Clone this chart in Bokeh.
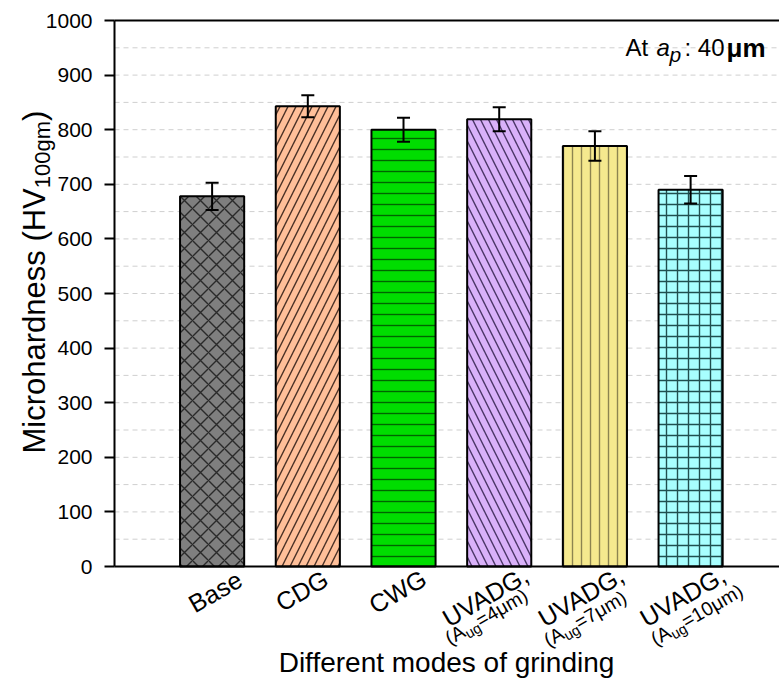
import math
from bokeh.plotting import figure
from bokeh.models import (ColumnDataSource, Range1d, Label, Whisker, TeeHead,
                          LinearAxis, FixedTicker)
from bokeh.embed import file_html
from bokeh.resources import INLINE

# ---------------- data ----------------
categories = ["Base", "CDG", "CWG", "UVADG,", "UVADG,", "UVADG,"]
amplitudes = ["", "", "", "4μm", "7μm", "10μm"]
hardness = [678, 843, 800, 819, 770, 690]
errors = [25, 20, 22, 22, 27, 25]
y_ticks = [0, 100, 200, 300, 400, 500, 600, 700, 800, 900, 1000]
x_title = "Different modes of grinding"
y_title_main = "Microhardness (HV"
y_title_sub = "100gm"
y_title_end = ")"
depth_text = ["At ", "a", "p", ": 40", "μm"]

# ---------------- styles ----------------
fills = ["#7f7f7f", "#ffbf99", "#00dd00", "#d9b1f9", "#f5e98e", "#a8ffff"]
hatches = ["diagonal_cross", "right_diagonal_line", "horizontal_line",
           "left_diagonal_line", "vertical_line", "cross"]
hatch_cols = ["#2a2a2a", "#4a3025", "#006400", "#4a3566", "#8c8450", "#1f4f4f"]
hatch_scales = [16, 16, 11, 16, 9, 11]

FONT = "Liberation Sans"
ADV = {'(': .333, ')': .333, 'A': .667, 'u': .556, 'g': .556, '=': .584,
       'μ': .576, 'm': .833, 'U': .722, 'V': .667, 'D': .722, 'G': .778,
       ',': .278, 'B': .667, 'a': .556, 's': .5, 'e': .556, 'C': .722,
       'W': .944, 'M': .833, 'i': .222, 'c': .5, 'r': .333, 'o': .556,
       'h': .556, 'd': .556, 'n': .556, ' ': .278, 'H': .722, 't': .278,
       'p': .556, ':': .278, 'f': .278}


def tw(s, size):
    return sum(ADV.get(ch, .556) for ch in s) * size


W, H = 779, 679
AX_L, AX_T, AX_B = 114, 20, 566      # pixel places of the axes
X0 = -0.02                            # data x at the left axis
PX = 95.7                             # pixels per category step
PY = (AX_B - AX_T) / 1000.0
XS = X0 - AX_L / PX
XE = XS + W / PX
YE = 1000 + AX_T / PY
YS = -(H - AX_B) / PY

p = figure(width=W, height=H, output_backend="svg", toolbar_location=None,
           x_range=Range1d(XS, XE), y_range=Range1d(YS, YE),
           x_axis_location=None, y_axis_location=None,
           min_border=0, min_border_left=0, min_border_right=0,
           min_border_top=0, min_border_bottom=0)
p.background_fill_color = "white"
p.border_fill_color = "white"
p.outline_line_color = None
p.xgrid.visible = False
p.ygrid.visible = False

# dashed grid at every major and minor tick level
grid_y = [t + h for t in y_ticks[:-1] for h in (0, 50)][1:]
p.segment(x0=[X0] * len(grid_y), x1=[XE] * len(grid_y), y0=grid_y, y1=grid_y,
          line_color="#cfcfcf", line_width=1, line_dash="5 4")

xs = list(range(1, len(categories) + 1))
src = ColumnDataSource(dict(
    x=xs, top=hardness,
    upper=[v + e for v, e in zip(hardness, errors)],
    lower=[v - e for v, e in zip(hardness, errors)],
    fill=fills, hatch=hatches, hcol=hatch_cols, hscale=hatch_scales))

p.vbar(x="x", top="top", width=0.67, source=src, fill_color="fill",
       line_color="black", line_width=2, hatch_pattern="hatch",
       hatch_color="hcol", hatch_scale="hscale", hatch_weight=1.4)

wh = Whisker(source=src, base="x", upper="upper", lower="lower",
             dimension="height", line_width=2, line_color="black",
             upper_head=TeeHead(size=13, line_width=2, line_color="black"),
             lower_head=TeeHead(size=13, line_width=2, line_color="black"),
             level="overlay")
p.add_layout(wh)

# y axis
ya = LinearAxis(fixed_location=X0, bounds=(0, 1000),
                ticker=FixedTicker(ticks=y_ticks))
ya.axis_line_width = 2
ya.axis_line_color = "black"
ya.major_tick_line_width = 2
ya.major_tick_line_color = "black"
ya.major_tick_out = 10
ya.major_tick_in = 0
ya.minor_tick_line_color = None
ya.major_label_text_font = FONT
ya.major_label_text_font_size = "21px"
ya.major_label_text_color = "black"
ya.major_label_standoff = 12
p.add_layout(ya, "left")

# bottom and top frame lines (axes without ticks)
for loc, side in ((0, "below"), (1000, "above")):
    ax = LinearAxis(fixed_location=loc, bounds=(X0, XE),
                    ticker=FixedTicker(ticks=[]), axis_line_width=2,
                    axis_line_color="black", major_tick_line_color=None,
                    minor_tick_line_color=None,
                    major_label_text_font_size="0px")
    p.add_layout(ax, side)


def put(text, sx, sy, size, angle=0.0, align="left", style="normal"):
    """sx, sy: pixel place of the middle line start (or centre)."""
    p.add_layout(Label(x=X0, y=0, x_offset=sx - AX_L, y_offset=AX_B - sy,
                       text=text, angle=angle, text_font=FONT,
                       text_font_size=f"{size}px", text_font_style=style,
                       text_color="black", text_align=align,
                       text_baseline="middle"))


def bar_px(i):
    return AX_L + (xs[i] - X0) * PX

# ---------------- x tick labels ----------------
TH = math.radians(30)
u = (math.cos(TH), -math.sin(TH))
d = (math.sin(TH), math.cos(TH))
F1, F2, FS = 25, 19.5, 14.5
line1_pos = [(3, 591), (-6, 590), (-6, 591), (-14, 596), (-14, 596),
             (-8, 596)]
line2_pos = [None, None, None, (-13, 616), (-10, 618), (6, 614)]

for i, cat in enumerate(categories):
    cx = bar_px(i)
    dx, cy = line1_pos[i]
    put(cat, cx + dx, cy, F1, angle=TH, align="center")
    if amplitudes[i]:
        dx2, cy2 = line2_pos[i]
        rest = "=" + amplitudes[i] + ")"
        L2 = tw("(A", F2) + tw("ug", FS) + tw(rest, F2)
        s2 = (cx + dx2 - L2 / 2 * u[0], cy2 - L2 / 2 * u[1])
        put("(A", s2[0], s2[1], F2, angle=TH)
        a1 = tw("(A", F2)
        low = 4 + 0.35 * (F2 - FS)
        put("ug", s2[0] + a1 * u[0] + low * d[0],
            s2[1] + a1 * u[1] + low * d[1], FS, angle=TH)
        a2 = a1 + tw("ug", FS)
        put(rest, s2[0] + a2 * u[0], s2[1] + a2 * u[1], F2, angle=TH)

# ---------------- axis titles ----------------
put(x_title, 446, 662, 28, align="center")

YF, YSUB = 31, 22
ymid = 34
ys0 = 453
put(y_title_main, ymid, ys0, YF, angle=math.pi / 2)
y1 = ys0 - tw(y_title_main, YF)
put(y_title_sub, ymid + 5 + 0.35 * (YF - YSUB), y1, YSUB, angle=math.pi / 2)
y2 = y1 - tw(y_title_sub, YSUB)
put(y_title_end, ymid, y2, YF, angle=math.pi / 2)

# ---------------- annotation ----------------
AF, APF = 24, 21
amid = 47
put(depth_text[0], 625, amid, AF)
put(depth_text[1], 656, amid, AF, style="italic")
put(depth_text[2], 669, amid + 6 + 0.35 * (AF - APF), APF, style="italic")
put(depth_text[3], 684, amid, AF)
put(depth_text[4], 726, amid, 26, style="bold")

open("out.html", "w").write(file_html(p, INLINE))
